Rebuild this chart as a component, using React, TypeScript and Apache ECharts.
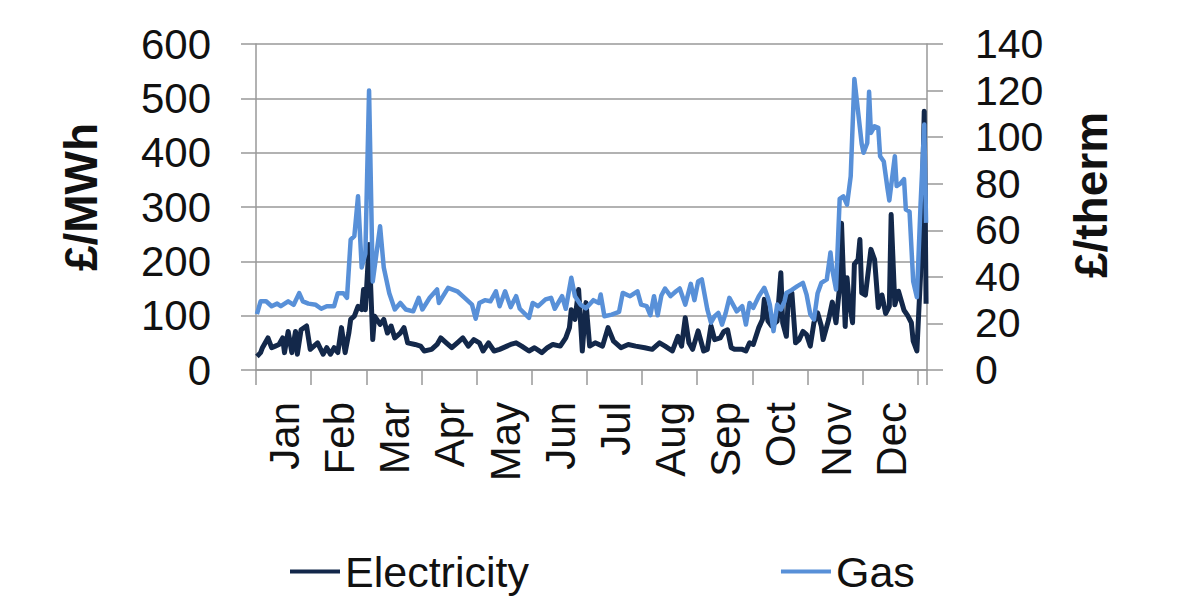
import React, { useEffect, useRef } from "react";
import * as echarts from "echarts";

const months = ["Jan", "Feb", "Mar", "Apr", "May", "Jun", "Jul", "Aug", "Sep", "Oct", "Nov", "Dec"];
const dayCount = 365;

// [day of year index, £/MWh]
const electricity: [number, number][] = [
  [0, 25], [2, 32], [3, 41], [6, 59], [8, 41], [10, 44], [12, 47], [14, 59], [15, 32], [17, 71], [19, 32], [21, 71],
  [22, 29], [24, 74], [27, 81], [29, 38], [31, 44], [33, 50], [36, 29], [38, 41], [40, 29], [42, 41], [44, 32], [46, 78],
  [48, 32], [50, 68], [51, 93], [53, 99], [55, 117], [57, 111], [58, 148], [59, 111], [61, 231], [63, 56], [64, 99],
  [67, 84], [69, 93], [71, 68], [73, 81], [75, 59], [78, 68], [80, 78], [82, 50], [86, 47], [89, 44], [91, 35], [95, 38],
  [98, 47], [100, 59], [103, 50], [106, 41], [109, 50], [112, 59], [115, 44], [118, 56], [121, 50], [123, 35], [126, 50],
  [129, 35], [132, 38], [136, 44], [138, 47], [141, 50], [144, 44], [148, 35], [151, 41], [155, 32], [158, 41], [161, 47],
  [165, 44], [168, 59], [170, 78], [171, 111], [173, 93], [175, 148], [177, 35], [179, 124], [181, 44], [184, 50],
  [188, 44], [191, 78], [194, 53], [198, 41], [202, 47], [206, 44], [211, 41], [215, 38], [219, 50], [222, 44], [226, 35],
  [229, 62], [231, 44], [233, 96], [235, 50], [237, 38], [240, 72], [243, 35], [245, 38], [247, 81], [249, 56], [252, 59],
  [254, 71], [256, 74], [258, 41], [260, 38], [264, 38], [266, 35], [268, 50], [270, 47], [273, 78], [275, 93], [276, 130],
  [278, 90], [280, 81], [283, 90], [285, 179], [286, 87], [288, 62], [289, 130], [291, 142], [293, 50], [295, 56],
  [297, 71], [299, 65], [301, 44], [303, 87], [305, 105], [307, 81], [308, 56], [311, 93], [313, 125], [315, 87],
  [317, 155], [318, 270], [320, 80], [321, 170], [322, 130], [324, 87], [325, 195], [327, 203], [328, 240], [329, 142],
  [331, 138], [334, 222], [336, 203], [338, 115], [340, 138], [342, 104], [344, 117], [345, 286], [347, 120], [349, 145],
  [352, 110], [354, 100], [356, 87], [357, 53], [359, 35], [361, 175], [363, 476], [364, 122],
];

// [day of year index, £/therm]
const gas: [number, number][] = [
  [0, 24], [2, 29.5], [5, 29.5], [8, 27.4], [11, 28.5], [13, 27.4], [17, 29.5], [20, 28], [23, 33], [25, 29.5], [28, 28.5],
  [32, 28], [35, 26.3], [38, 27.4], [42, 27.4], [44, 33], [47, 33], [49, 31], [51, 56], [53, 57.5], [55, 74.6], [57, 44],
  [59, 50], [61, 120], [63, 38], [67, 61.7], [69, 44], [72, 33], [75, 26], [78, 28.8], [81, 26], [85, 25.2], [88, 31],
  [90, 26], [94, 31], [98, 34.6], [99, 28.8], [104, 35.3], [109, 33.8], [113, 31], [117, 28.1], [119, 22], [121, 28.8],
  [124, 30], [127, 29.5], [130, 33.8], [132, 27.4], [135, 33.8], [138, 27], [141, 31.7], [143, 26.3], [148, 22.4],
  [150, 28.8], [153, 27.4], [157, 30.3], [160, 31], [162, 26.3], [166, 31.7], [168, 26.3], [171, 39.6], [173, 31.7],
  [176, 28.1], [179, 26.5], [183, 30], [186, 28.8], [187, 32.4], [189, 23.1], [193, 23.8], [197, 25], [199, 33.1],
  [203, 31.7], [207, 33.8], [209, 28.1], [212, 27.4], [214, 23.5], [216, 31.7], [218, 23.5], [220, 32], [222, 35],
  [225, 31.7], [228, 33.8], [230, 35], [233, 28.1], [236, 37], [238, 30], [240, 38], [242, 38.9], [245, 26], [247, 20.3],
  [249, 23.1], [251, 24.5], [253, 19.5], [255, 24.5], [257, 31], [259, 28.1], [261, 25.2], [264, 27.4], [266, 19.5],
  [268, 28.8], [270, 26.7], [273, 31.7], [276, 35.3], [278, 31], [279, 28.1], [281, 16.7], [283, 28.1], [285, 26],
  [287, 29.5], [288, 33.1], [291, 34.4], [294, 36], [297, 37.4], [299, 32.4], [301, 24], [303, 21.7], [305, 33],
  [307, 37.4], [310, 38.9], [312, 50.5], [313, 43], [315, 34.6], [317, 73.5], [319, 74.6], [321, 71], [323, 83.2],
  [325, 125], [327, 111], [329, 97], [330, 93.3], [332, 97.5], [333, 119.5], [334, 101.8], [336, 104.7], [338, 104],
  [339, 91.8], [341, 89.5], [343, 78], [344, 72.8], [347, 91.8], [348, 79], [350, 80], [352, 82], [353, 68.9], [355, 68],
  [357, 38], [359, 31.3], [361, 71], [363, 105.4], [364, 63.2],
];

const leftTitle = "£/MWh";
const rightTitle = "£/therm";
const seriesNames = ["Electricity", "Gas"];

const FONT = "'Liberation Sans', Arial, sans-serif";
const AXIS_GRAY = "#989898";
const TEXT = "#111111";
const ELEC_COLOR = "#13284a";
const GAS_COLOR = "#5890d8";

export default function App() {
  const ref = useRef<HTMLDivElement>(null);

  useEffect(() => {
    document.body.style.margin = "0";
    if (!ref.current) return;
    const chart = echarts.init(ref.current, undefined, { renderer: "svg" });
    const days = Array.from({ length: dayCount }, (_, i) => String(i));

    chart.setOption({
      animation: false,
      backgroundColor: "#ffffff",
      textStyle: { fontFamily: FONT },
      grid: {
        left: 256,
        top: 44,
        width: 671,
        height: 326,
        containLabel: false,
        outerBoundsMode: "none",
      },
      legend: {
        data: seriesNames,
        left: 285,
        top: 545,
        icon: "rect",
        itemWidth: 50,
        itemHeight: 4,
        itemGap: 252,
        textStyle: { fontSize: 43, color: TEXT, fontFamily: FONT },
      },
      graphic: [
        {
          type: "text",
          x: 81,
          y: 197,
          rotation: Math.PI / 2,
          style: {
            text: leftTitle,
            fontSize: 46,
            fontWeight: "bold",
            fontFamily: FONT,
            fill: TEXT,
            align: "center",
            verticalAlign: "middle",
          },
        },
        {
          type: "text",
          x: 1091,
          y: 195,
          rotation: Math.PI / 2,
          style: {
            text: rightTitle,
            fontSize: 46,
            fontWeight: "bold",
            fontFamily: FONT,
            fill: TEXT,
            align: "center",
            verticalAlign: "middle",
          },
        },
      ],
      xAxis: {
        type: "category",
        data: days,
        boundaryGap: true,
        axisLine: { show: true, lineStyle: { color: AXIS_GRAY, width: 1.5 } },
        axisTick: {
          show: true,
          length: 15,
          interval: (i: number) => i % 30 === 0,
          lineStyle: { color: AXIS_GRAY, width: 1.5 },
        },
        axisLabel: {
          interval: (i: number) => i % 30 === 15,
          rotate: 90,
          margin: 32,
          fontSize: 42,
          color: TEXT,
          fontFamily: FONT,
          formatter: (_v: string, i: number) => months[Math.min(11, Math.floor(i / 30))],
        },
        splitLine: { show: false },
      },
      yAxis: [
        {
          type: "value",
          min: 0,
          max: 600,
          interval: 100,
          position: "left",
          axisLine: { show: true, lineStyle: { color: AXIS_GRAY, width: 1.5 } },
          axisTick: { show: true, length: 15, lineStyle: { color: AXIS_GRAY, width: 1.5 } },
          axisLabel: { margin: 45, fontSize: 42, color: TEXT, fontFamily: FONT },
          splitLine: { show: true, lineStyle: { color: AXIS_GRAY, width: 1.5 } },
        },
        {
          type: "value",
          min: 0,
          max: 140,
          interval: 20,
          position: "right",
          axisLine: { show: true, lineStyle: { color: AXIS_GRAY, width: 1.5 } },
          axisTick: { show: true, length: 16, lineStyle: { color: AXIS_GRAY, width: 1.5 } },
          axisLabel: { margin: 48, fontSize: 41, color: TEXT, fontFamily: FONT },
          splitLine: { show: false },
        },
      ],
      series: [
        {
          name: seriesNames[0],
          type: "line",
          yAxisIndex: 0,
          data: electricity,
          symbol: "none",
          showSymbol: false,
          lineStyle: { color: ELEC_COLOR, width: 5, join: "round" },
          itemStyle: { color: ELEC_COLOR },
        },
        {
          name: seriesNames[1],
          type: "line",
          yAxisIndex: 1,
          data: gas,
          symbol: "none",
          showSymbol: false,
          lineStyle: { color: GAS_COLOR, width: 4.5, join: "round" },
          itemStyle: { color: GAS_COLOR },
        },
      ],
    });

    return () => chart.dispose();
  }, []);

  return <div ref={ref} style={{ width: 1179, height: 601 }} />;
}
